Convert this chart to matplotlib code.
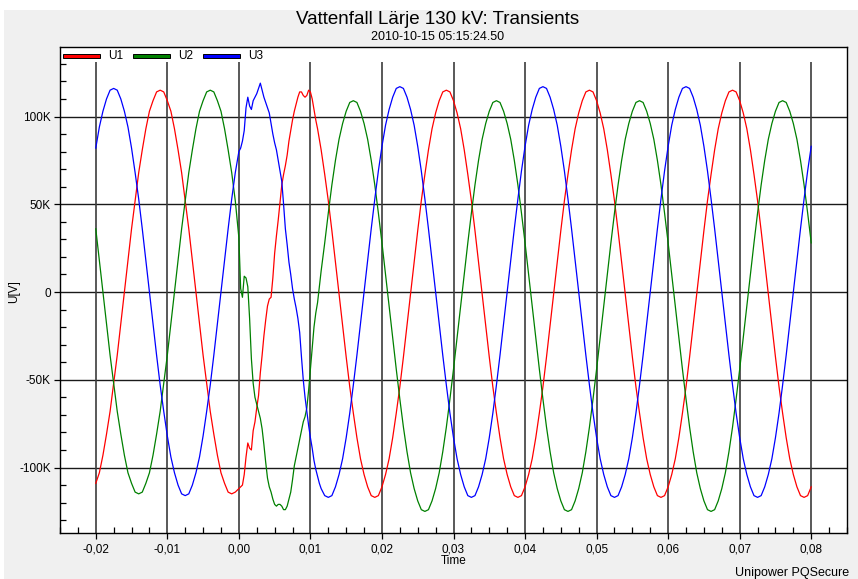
import numpy as np
import matplotlib
matplotlib.use('Agg')
import matplotlib.pyplot as plt
from matplotlib.patches import Rectangle
from matplotlib.ticker import MultipleLocator, FuncFormatter

# time base: 0.5 ms steps before/after the fault, 0.25 ms steps through it
t_pre = -0.02 + 0.0005 * np.arange(40)
t_fault = 0.00025 * np.arange(48)
t_post = 0.012 + 0.0005 * np.arange(137)
time = np.concatenate([t_pre, t_fault, t_post])

# phase voltages, in kV
u1 = [
    # pre-fault
    -109, -103, -93, -81, -68, -52, -36, -18, 0, 18, 36, 52, 68, 81, 93, 103, 109, 114, 115, 114,
    109, 103, 93, 81, 68, 52, 36, 18, 0, -18, -36, -52, -68, -81, -93, -103, -109, -114, -115, -114,
    # fault
    -112, -111, -110, -104, -94, -86, -89, -90, -79, -74, -66, -59, -46, -36, -25, -16, -8, -4, -3, 8, 22, 32, 41, 51,
    61, 67, 72, 78, 86, 92, 98, 103, 107, 111, 114, 114, 112, 111, 112, 115, 114, 110, 104, 98, 93, 87, 81, 74,
    # post-fault
    67, 52, 35, 17, -1, -19, -37, -54, -69, -83, -95, -104, -111, -116, -117, -116, -111, -104, -95, -83,
    -69, -54, -37, -19, -1, 17, 35, 52, 67, 81, 93, 102, 109, 114,
    115, 114, 109, 102, 93, 81, 67, 52, 35, 17, -1, -19, -37, -54, -69, -83, -95, -104, -111, -116,
    -117, -116, -111, -104, -95, -83, -69, -54, -37, -19, -1, 17, 35, 52, 67, 81, 93, 102, 109, 114,
    115, 114, 109, 102, 93, 81, 67, 52, 35, 17, -1, -19, -37, -54, -69, -83, -95, -104, -111, -116,
    -117, -116, -111, -104, -95, -83, -69, -54, -37, -19, -1, 17, 35, 52, 67, 81, 93, 102, 109, 114,
    115, 114, 109, 102, 93, 81, 67, 52, 35, 17, -1, -19, -37, -54, -69, -83, -95, -104, -111, -116,
    -117, -116, -111,
]

u2 = [
    # pre-fault
    36, 18, 0, -18, -36, -52, -68, -81, -93, -103, -109, -114, -115, -114, -109, -103, -93, -81, -68, -52,
    -36, -18, 0, 18, 36, 52, 68, 81, 93, 103, 109, 114, 115, 114, 109, 103, 93, 81, 68, 52,
    # fault
    31, 2, -3, 9, 8, 3, -15, -38, -52, -60, -64, -68, -72, -78, -87, -97, -106, -111, -114, -118, -121, -122, -121, -121,
    -122, -124, -124, -122, -118, -114, -107, -99, -94, -89, -84, -79, -74, -71, -66, -56, -44, -32, -20, -12, -6, 3, 12, 20,
    # post-fault
    28, 45, 61, 75, 87, 96, 103, 108,
    109, 108, 103, 96, 87, 75, 61, 45, 28, 10, -8, -26, -44, -61, -77, -91, -103, -112, -119, -124,
    -125, -124, -119, -112, -103, -91, -77, -61, -44, -26, -8, 10, 28, 45, 61, 75, 87, 96, 103, 108,
    109, 108, 103, 96, 87, 75, 61, 45, 28, 10, -8, -26, -44, -61, -77, -91, -103, -112, -119, -124,
    -125, -124, -119, -112, -103, -91, -77, -61, -44, -26, -8, 10, 28, 45, 61, 75, 87, 96, 103, 108,
    109, 108, 103, 96, 87, 75, 61, 45, 28, 10, -8, -26, -44, -61, -77, -91, -103, -112, -119, -124,
    -125, -124, -119, -112, -103, -91, -77, -61, -44, -26, -8, 10, 28, 45, 61, 75, 87, 96, 103, 108,
    109, 108, 103, 96, 87, 75, 61, 45, 28,
]

u3 = [
    # pre-fault
    82, 94, 103, 110, 115, 116, 115, 110, 103, 94, 82, 68, 53, 36, 18, 0, -18, -36, -53, -68,
    -82, -94, -103, -110, -115, -116, -115, -110, -103, -94, -82, -68, -53, -36, -18, 0, 18, 36, 53, 68,
    # fault
    80, 82, 86, 92, 105, 111, 106, 104, 109, 111, 113, 116, 119, 115, 111, 108, 105, 102, 96, 90, 85, 81, 75, 69,
    63, 50, 36, 27, 17, 10, 2, -4, -9, -15, -23, -37, -50, -60, -68, -76, -83, -89, -96, -101, -105, -109, -112, -114,
    # post-fault
    -116,
    -117, -116, -111, -104, -95, -83, -69, -53, -36, -18, 0, 18, 36, 53, 69, 83, 95, 104, 111, 116,
    117, 116, 111, 104, 95, 83, 69, 53, 36, 18, 0, -18, -36, -53, -69, -83, -95, -104, -111, -116,
    -117, -116, -111, -104, -95, -83, -69, -53, -36, -18, 0, 18, 36, 53, 69, 83, 95, 104, 111, 116,
    117, 116, 111, 104, 95, 83, 69, 53, 36, 18, 0, -18, -36, -53, -69, -83, -95, -104, -111, -116,
    -117, -116, -111, -104, -95, -83, -69, -53, -36, -18, 0, 18, 36, 53, 69, 83, 95, 104, 111, 116,
    117, 116, 111, 104, 95, 83, 69, 53, 36, 18, 0, -18, -36, -53, -69, -83, -95, -104, -111, -116,
    -117, -116, -111, -104, -95, -83, -69, -53, -36, -18, 0, 18, 36, 53, 69, 83,
]

phases = ['U1', 'U2', 'U3']
colors = ['#ff0000', '#008000', '#0000ff']
x_major = [-0.02, -0.01, 0.0, 0.01, 0.02, 0.03, 0.04, 0.05, 0.06, 0.07, 0.08]
y_major = [-100000, -50000, 0, 50000, 100000]

plt.rcParams['font.family'] = ['Liberation Sans', 'DejaVu Sans']

W, H = 858, 579
fig = plt.figure(figsize=(W / 100, H / 100), dpi=100)
fig.add_artist(Rectangle((4 / W, 0), 1, 1 - 10 / H, transform=fig.transFigure,
                         facecolor='#f0f0f0', edgecolor='none', zorder=-5))

ax = fig.add_axes([60 / W, 1 - 533 / H, 787 / W, 486 / H])
ax.set_facecolor('white')
ymin, ymax = -137300, 139600
ax.set_xlim(-0.025, 0.085)
ax.set_ylim(ymin, ymax)

for y in y_major:
    ax.axhline(y, color='#1a1a1a', lw=1.0, zorder=1)
ax.vlines(x_major, ymin, 131000, color='#3c3c3c', lw=1.2, zorder=1)

for vals, c in zip([u1, u2, u3], colors):
    ax.plot(time, np.array(vals) * 1000, color=c, lw=0.9, zorder=3)

ax.set_xticks(x_major)
ax.set_yticks(y_major)
ax.xaxis.set_minor_locator(MultipleLocator(0.0025))
ax.yaxis.set_minor_locator(MultipleLocator(10000))
ax.xaxis.set_major_formatter(FuncFormatter(lambda v, p: f'{v:.2f}'.replace('.', ',').replace('-0,00', '0,00')))
ax.yaxis.set_major_formatter(FuncFormatter(lambda v, p: '0' if v == 0 else f'{v / 1000:.0f}K'))
ax.tick_params(which='major', direction='out', length=4.5, width=0.9, labelsize=8.5, pad=2)
ax.tick_params(axis='x', which='major', pad=3)
ax.tick_params(which='minor', direction='in', length=4.5, width=0.9)
for s in ax.spines.values():
    s.set_color('black')
    s.set_linewidth(1.0)

# legend strip along the top of the plot
for n, (name, c) in enumerate(zip(phases, colors)):
    x0 = 63 + 70 * n
    fig.add_artist(Rectangle((x0 / W, 1 - 58 / H), 37 / W, 4 / H, transform=fig.transFigure,
                             facecolor=c, edgecolor='black', lw=0.7, zorder=5))
    fig.text((x0 + 45) / W, 1 - 56 / H, name, ha='left', va='center', fontsize=8.5)

fig.text(438 / W, 1 - 20 / H, 'Vattenfall Lärje 130 kV: Transients', ha='center', va='center', fontsize=13.5)
fig.text(438 / W, 1 - 37 / H, '2010-10-15 05:15:24.50', ha='center', va='center', fontsize=9)
fig.text(14 / W, 1 - 292 / H, 'U[V]', rotation=90, ha='center', va='center', fontsize=8.5)
fig.text(454 / W, 1 - 561 / H, 'Time', ha='center', va='center', fontsize=8.5)
fig.text(849 / W, 1 - 573 / H, 'Unipower PQSecure', ha='right', va='center', fontsize=9)

fig.savefig('out.png', dpi=100)
